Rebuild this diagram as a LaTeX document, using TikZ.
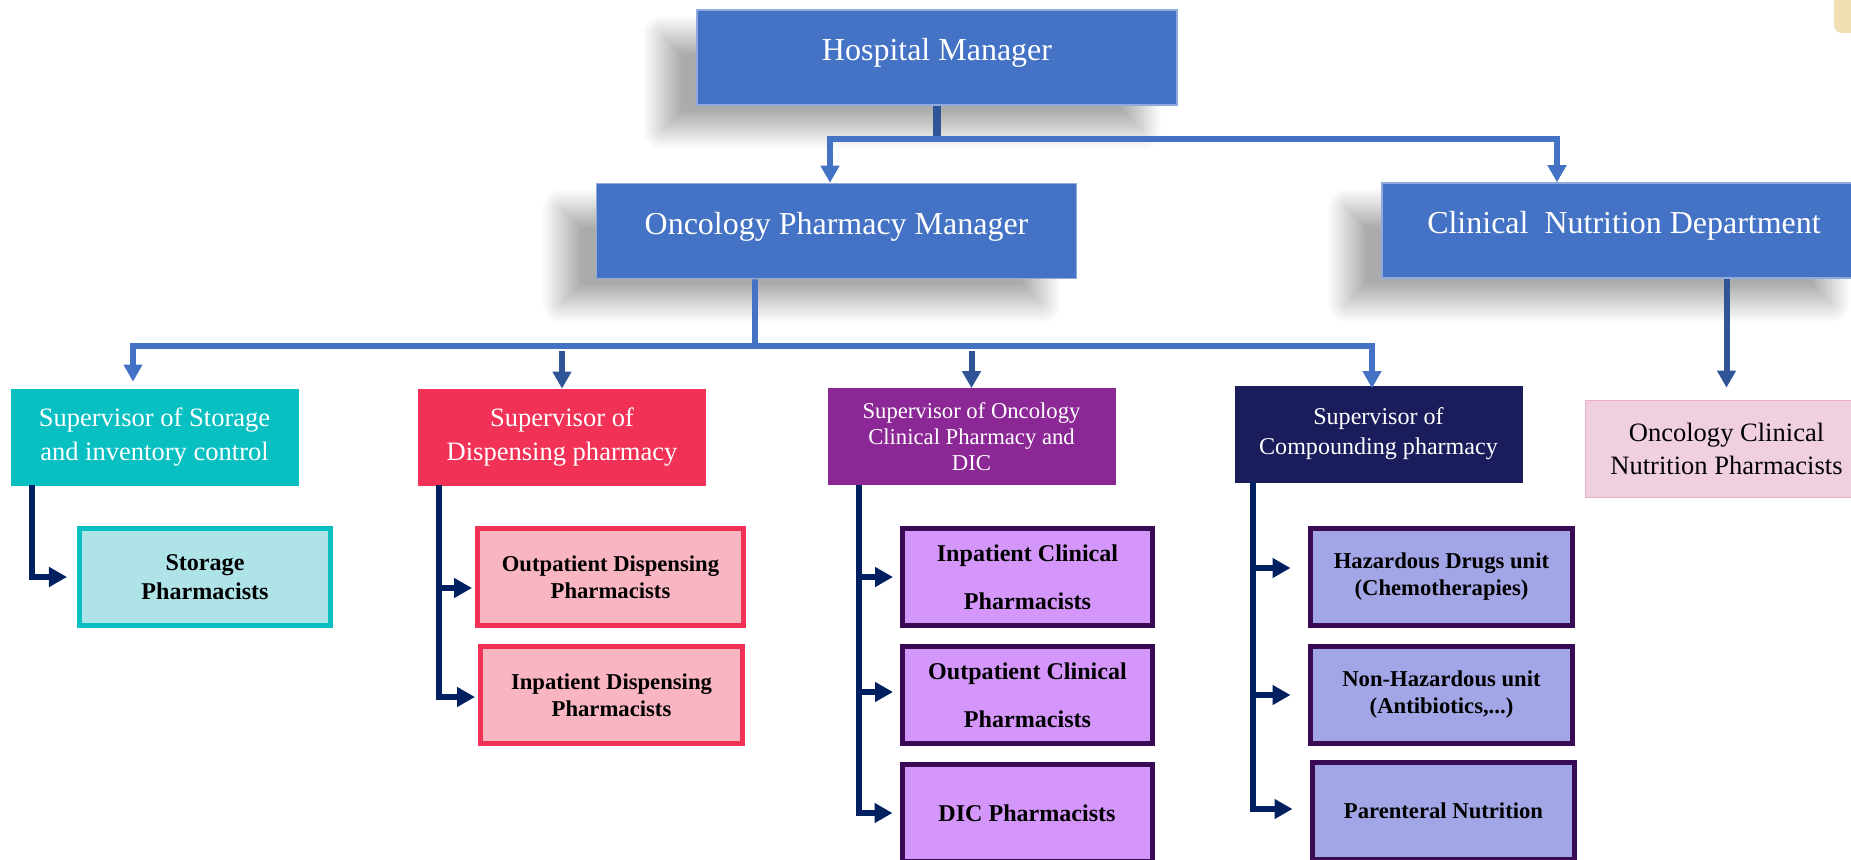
\documentclass[tikz,border=0pt]{standalone}
\usepackage{fontspec}
\setmainfont{Liberation Serif}
\usepackage{tikz}
\usetikzlibrary{arrows.meta,shadows.blur}

\begin{document}
\begin{tikzpicture}[x=0.2mm, y=-0.2mm,
    topbox/.style={draw=topedge, line width=0.3mm, fill=topblue, text=white,
        font=\fontsize{18.2}{22}\selectfont, text depth=3.2mm,
        minimum width=96mm, minimum height=19mm,
        blur shadow={shadow xshift=-7mm, shadow yshift=-5mm, shadow blur radius=4mm,
            shadow opacity=33, shadow blur steps=24}},
    supbox/.style={draw=#1, fill=#1, text=white, align=center,
        minimum width=57.4mm, minimum height=19.2mm, font=\fontsize{15.1}{18.8}\selectfont},
    staffbox/.style 2 args={draw=#2, fill=#1, line width=1mm, align=center,
        minimum height=19.4mm, font=\bfseries\fontsize{12.9}{15.4}\selectfont},
    bar/.style={draw=topblue, line width=1.15mm},
    stem/.style={draw=stubblue, line width=1.5mm},
    stub/.style={draw=stubblue, line width=1.2mm},
    navyline/.style={draw=linknavy, line width=1.1mm},
    bluetip/.style={-{Triangle[width=3.6mm,length=3.4mm]}},
    navytip/.style={-{Triangle[width=3.8mm,length=3.6mm]}}
]
    % 定义颜色
    \definecolor{topblue}{RGB}{68, 114, 196}
    \definecolor{topedge}{RGB}{143, 170, 220}
    \definecolor{stubblue}{RGB}{47, 85, 151}
    \definecolor{linknavy}{RGB}{0, 32, 96}
    \definecolor{supteal}{RGB}{8, 191, 193}
    \definecolor{supred}{RGB}{242, 49, 87}
    \definecolor{suppurple}{RGB}{140, 40, 150}
    \definecolor{supnavy}{RGB}{27, 28, 92}
    \definecolor{nutripink}{RGB}{240, 208, 224}
    \definecolor{lightteal}{RGB}{174, 227, 232}
    \definecolor{lightred}{RGB}{249, 181, 194}
    \definecolor{lightviolet}{RGB}{212, 150, 250}
    \definecolor{lightlav}{RGB}{162, 166, 230}
    \definecolor{darkplum}{RGB}{58, 11, 85}
    \definecolor{tabbeige}{RGB}{240, 223, 178}

    \useasboundingbox (0,0) rectangle (1851,860);
    \clip (0,0) rectangle (1851,860);

    \fill[tabbeige, rounded corners=1.6mm] (1834,-20) rectangle (1870,33);

    % 第一层
    \node[topbox] (hosp) at (937,57.5) {Hospital Manager};
    \node[topbox] (onc) at (836.5,231) {Oncology Pharmacy Manager};
    \node[topbox, minimum width=96.8mm] (nutr) at (1624,230.5) {Clinical\ \ Nutrition Department};

    % 第二层
    \node[supbox=supteal] (sto) at (154.5,437) {Supervisor of Storage\\and inventory control};
    \node[supbox=supred] (dsp) at (562,437) {Supervisor of\\Dispensing pharmacy};
    \node[supbox=suppurple, font=\fontsize{12.9}{14.8}\selectfont] (clin) at (971.5,436.5)
        {Supervisor of Oncology\\Clinical Pharmacy and\\DIC};
    \node[supbox=supnavy, font=\fontsize{13.7}{17}\selectfont] (cmp) at (1378.5,434)
        {Supervisor of\\Compounding pharmacy};
    \node[supbox=nutripink, draw=nutripink!85!purple, text=black, minimum width=56.6mm,
        minimum height=19.4mm] (ocn) at (1726.5,448.5) {Oncology Clinical\\Nutrition Pharmacists};

    % 第三层
    \node[staffbox={lightteal}{supteal}, minimum width=50.2mm,
        font=\bfseries\fontsize{13.7}{16.5}\selectfont] (stp) at (205,577) {Storage\\Pharmacists};
    \node[staffbox={lightred}{supred}, minimum width=53.2mm] (odp) at (610.5,577)
        {Outpatient Dispensing\\Pharmacists};
    \node[staffbox={lightred}{supred}, minimum width=52.4mm] (idp) at (611.5,695)
        {Inpatient Dispensing\\Pharmacists};
    \node[staffbox={lightviolet}{darkplum}, minimum width=50mm,
        font=\bfseries\fontsize{13.7}{27.3}\selectfont] (icp) at (1027.5,577)
        {Inpatient Clinical\\Pharmacists};
    \node[staffbox={lightviolet}{darkplum}, minimum width=50mm,
        font=\bfseries\fontsize{13.7}{27.3}\selectfont] (ocp) at (1027.5,695)
        {Outpatient Clinical\\Pharmacists};
    \node[staffbox={lightviolet}{darkplum}, minimum width=50mm,
        font=\bfseries\fontsize{13.7}{16}\selectfont] (dicp) at (1027,813) {DIC Pharmacists};
    \node[staffbox={lightlav}{darkplum}, minimum width=52.4mm] (hdu) at (1441.5,577)
        {Hazardous Drugs unit\\(Chemotherapies)};
    \node[staffbox={lightlav}{darkplum}, minimum width=52.4mm] (nhu) at (1441.5,695)
        {Non-Hazardous unit\\(Antibiotics,...)};
    \node[staffbox={lightlav}{darkplum}, minimum width=52.4mm] (pnu) at (1443.5,811)
        {Parenteral Nutrition};

    % 连接线
    \coordinate (hbar) at (937,139);
    \draw[stem] (hosp.south) -- (hbar);
    \draw[bar, bluetip] (hbar) -| ([xshift=-1.3mm]onc.north);
    \draw[bar, bluetip] (hbar) -| ([xshift=-13.4mm]nutr.north);

    \coordinate (obar) at (755,346);
    \draw[bar] ([xshift=-16.3mm]onc.south) -- (obar);
    \draw[bar, bluetip, shorten >=1.4mm] (obar) -| ([xshift=-4.3mm]sto.north);
    \draw[bar, bluetip] (obar) -| ([xshift=-1.3mm]cmp.north |- clin.north);
    \draw[stub, bluetip] ([yshift=-1mm]dsp.north |- obar) -- (dsp.north);
    \draw[stub, bluetip] ([yshift=-1mm]clin.north |- obar) -- (clin.north);
    \draw[stub, bluetip, shorten >=2.4mm] (nutr.south -| ocn.north) -- (ocn.north);

    \draw[navyline, navytip, shorten >=2mm] ([xshift=-24.5mm]sto.south) |- (stp.west);

    \coordinate (dtrunk) at ([xshift=-24.6mm]dsp.south);
    \draw[navyline, navytip, shorten >=0.6mm] (dtrunk) |- ([yshift=-2.2mm]odp.west);
    \draw[navyline, navytip, shorten >=0.6mm] (dtrunk) |- ([yshift=-0.4mm]idp.west);

    \coordinate (ctrunk) at ([xshift=-22.5mm]clin.south);
    \draw[navyline, navytip, shorten >=1.4mm] (ctrunk) |- (icp.west);
    \draw[navyline, navytip, shorten >=1.4mm] (ctrunk) |- ([yshift=0.6mm]ocp.west);
    \draw[navyline, navytip, shorten >=1.4mm] (ctrunk) |- (dicp.west);

    \coordinate (ktrunk) at ([xshift=-25.1mm]cmp.south);
    \draw[navyline, navytip, shorten >=3.5mm] (ktrunk) |- ([yshift=1.8mm]hdu.west);
    \draw[navyline, navytip, shorten >=3.5mm] (ktrunk) |- (nhu.west);
    \draw[navyline, navytip, shorten >=3.5mm] (ktrunk) |- ([yshift=0.4mm]pnu.west);
\end{tikzpicture}
\end{document}
